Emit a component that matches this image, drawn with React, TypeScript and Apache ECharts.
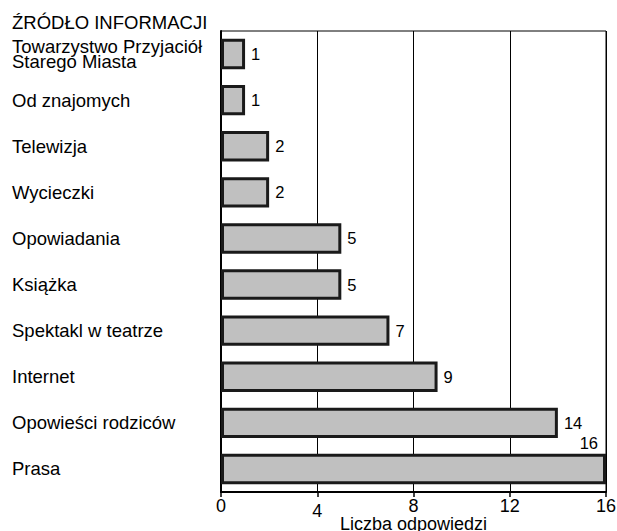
import React, { useEffect, useRef } from "react";
import * as echarts from "echarts";

const categories = [
  "Towarzystwo Przyjaciół\nStarego Miasta",
  "Od znajomych",
  "Telewizja",
  "Wycieczki",
  "Opowiadania",
  "Książka",
  "Spektakl w teatrze",
  "Internet",
  "Opowieści rodziców",
  "Prasa",
];
const values = [1, 1, 2, 2, 5, 5, 7, 9, 14, 16];
const xTicks = [0, 4, 8, 12, 16];
const titleText = "ŹRÓDŁO INFORMACJI";
const xAxisName = "Liczba odpowiedzi";

const FONT = "Liberation Sans, Arial, sans-serif";

export default function App() {
  const ref = useRef<HTMLDivElement>(null);
  useEffect(() => {
    if (!ref.current) return;
    const chart = echarts.init(ref.current, null, { renderer: "svg" });
    const data = values.map((v, i) => {
      if (i === values.length - 1) {
        return {
          value: v,
          label: {
            position: ["100%", 0],
            align: "right",
            verticalAlign: "bottom",
            offset: [-8, -2],
          },
        };
      }
      return v;
    });
    chart.setOption({
      animation: false,
      backgroundColor: "#ffffff",
      title: {
        text: titleText,
        left: 12,
        top: 13,
        padding: 0,
        textStyle: {
          fontFamily: FONT,
          fontSize: 18.5,
          fontWeight: "normal",
          color: "#000",
        },
      },
      grid: {
        left: 221,
        right: 11,
        top: 31,
        bottom: 39,
        containLabel: false,
        outerBoundsMode: "none",
        show: true,
        borderColor: "#000",
        borderWidth: 1,
        backgroundColor: "transparent",
      },
      xAxis: {
        type: "value",
        min: xTicks[0],
        max: xTicks[xTicks.length - 1],
        interval: 4,
        name: xAxisName,
        nameLocation: "middle",
        nameGap: 23,
        nameMoveOverlap: false,
        nameTextStyle: { fontFamily: FONT, fontSize: 18, color: "#000" },
        axisLine: { show: true, lineStyle: { color: "#000", width: 2 } },
        axisTick: { show: true, length: 5, lineStyle: { color: "#000", width: 1.5 } },
        axisLabel: {
          fontFamily: FONT,
          fontSize: 18,
          color: "#000",
          margin: 5,
          formatter: (v: number) => (v === 4 ? "{low|" + v + "}" : "{n|" + v + "}"),
          rich: {
            n: { fontFamily: FONT, fontSize: 18, color: "#000" },
            low: { fontFamily: FONT, fontSize: 18, color: "#000", padding: [5, 0, 0, 0] },
          },
        },
        splitLine: { show: true, lineStyle: { color: "#000", width: 1 } },
      },
      yAxis: {
        type: "category",
        data: categories,
        inverse: true,
        axisLine: { show: true, lineStyle: { color: "#000", width: 2 } },
        axisTick: { show: false },
        axisLabel: {
          align: "left",
          margin: 209,
          fontFamily: FONT,
          fontSize: 18.5,
          color: "#000",
          lineHeight: 15,
        },
      },
      series: [
        {
          type: "bar",
          data,
          barCategoryGap: "34%",
          itemStyle: { color: "#c0c0c0", borderColor: "#1a1a1a", borderWidth: 3 },
          label: {
            show: true,
            position: "right",
            distance: 6,
            fontFamily: FONT,
            fontSize: 16.5,
            color: "#000",
          },
        },
      ],
    });
    return () => chart.dispose();
  }, []);
  return (
    <div
      ref={ref}
      style={{ position: "fixed", left: 0, top: 0, width: 617, height: 531 }}
    />
  );
}
